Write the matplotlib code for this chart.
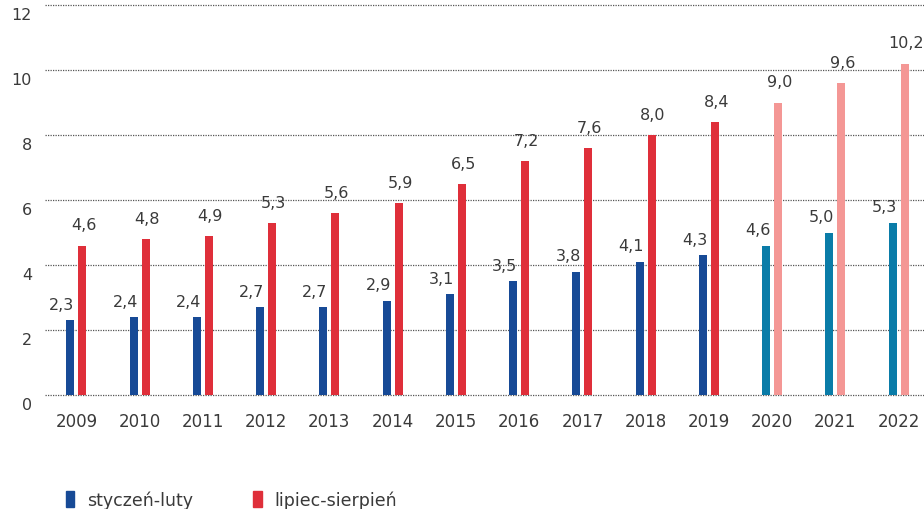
import matplotlib.pyplot as plt
import matplotlib.transforms as mtransforms
import numpy as np
from matplotlib.patches import Patch

years = ["2009", "2010", "2011", "2012", "2013", "2014", "2015",
         "2016", "2017", "2018", "2019", "2020", "2021", "2022"]
jan_feb = [2.3, 2.4, 2.4, 2.7, 2.7, 2.9, 3.1, 3.5, 3.8, 4.1, 4.3, 4.6, 5.0, 5.3]
jul_aug = [4.6, 4.8, 4.9, 5.3, 5.6, 5.9, 6.5, 7.2, 7.6, 8.0, 8.4, 9.0, 9.6, 10.2]
first_forecast = 11  # 2020 onwards drawn in lighter colours
yticks = [0, 2, 4, 6, 8, 10, 12]
legend_labels = ["styczeń-luty", "lipiec-sierpień"]

BLUE, RED = "#174a96", "#df2f3a"
TEAL, PINK = "#0a7ca8", "#f49795"
TEXT = "#3a3a3a"
FS = 11.5

x = np.arange(len(years))
blue_cols = [BLUE if i < first_forecast else TEAL for i in x]
red_cols = [RED if i < first_forecast else PINK for i in x]

fig = plt.figure(figsize=(9.24, 5.10), dpi=100)
ymax = 12.15
ax = fig.add_axes([45 / 924, 1 - 396 / 510, 1 - 45 / 924, ymax * 32.5 / 510])

w, off = 0.125, 0.095
ax.bar(x - off, jan_feb, width=w, color=blue_cols, zorder=3)
ax.bar(x + off, jul_aug, width=w, color=red_cols, zorder=3)

for i in x:
    ax.annotate(f"{jan_feb[i]:.1f}".replace(".", ","), (x[i] - off, jan_feb[i]),
                xytext=(-6, 6), textcoords="offset points", ha="center", va="bottom",
                fontsize=FS, color=TEXT)
    ax.annotate(f"{jul_aug[i]:.1f}".replace(".", ","), (x[i] + off, jul_aug[i]),
                xytext=(1, 9.5), textcoords="offset points", ha="center", va="bottom",
                fontsize=FS, color=TEXT, annotation_clip=False)

ax.set_xlim(-0.495, 13.4)
ax.set_ylim(0, ymax)
ax.set_yticks(yticks)
ax.set_xticks(x)
ax.set_xticklabels(years)
ax.tick_params(length=0, labelsize=FS, labelcolor=TEXT)
ax.tick_params(axis="y", pad=9.4)
ax.tick_params(axis="x", pad=12, labelsize=12)
shift = mtransforms.ScaledTranslation(0, -8 / 100, fig.dpi_scale_trans)
for lab in ax.get_yticklabels():
    lab.set_transform(lab.get_transform() + shift)

for y in yticks:
    ax.axhline(y, color="#555555", lw=0.9, ls=(0, (1, 1)), zorder=1, clip_on=False)
for s in ax.spines.values():
    s.set_visible(False)

handles = [Patch(color=BLUE), Patch(color=RED)]
fig.legend(handles, legend_labels, loc="lower left", bbox_to_anchor=(66 / 924, 0.0),
           ncol=2, frameon=False, fontsize=12.5, handlelength=0.48, handleheight=1.0,
           handletextpad=0.75, columnspacing=3.45, borderpad=0, borderaxespad=0,
           labelcolor=TEXT)

fig.savefig("out.png", dpi=100)
